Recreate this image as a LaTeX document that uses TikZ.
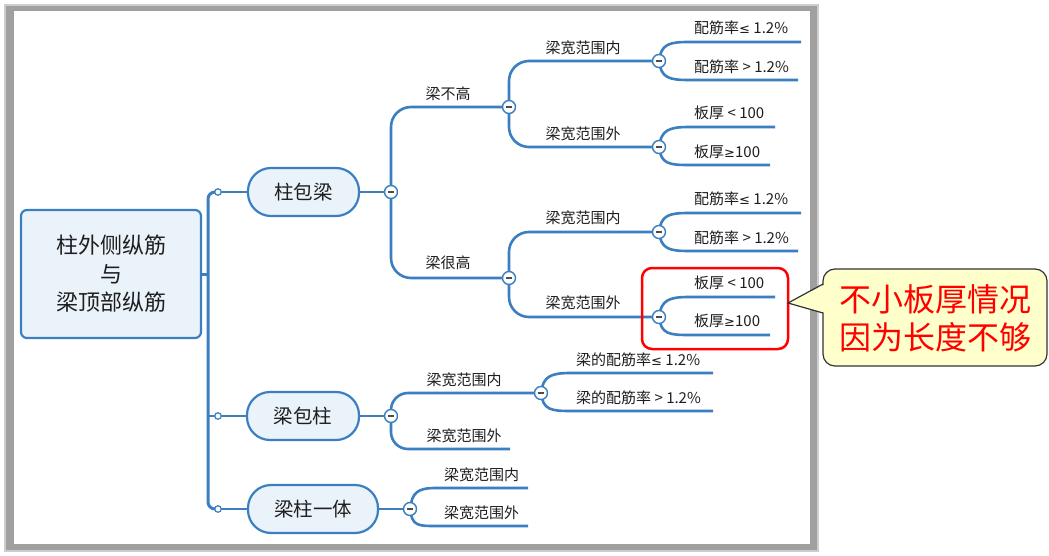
\documentclass[tikz,border=0pt]{standalone}
\usepackage{fontspec}
\setmainfont{Noto Sans CJK SC}
\newfontfamily\symfont{DejaVu Sans}
\newcommand{\myle}{{\symfont\fontsize{13}{18}\selectfont ≤}}
\newcommand{\myge}{{\symfont\fontsize{13}{18}\selectfont ≥}}
\usetikzlibrary{calc}
\definecolor{xblue}{RGB}{59,127,192}
\definecolor{xfill}{RGB}{234,242,250}
\definecolor{xtext}{RGB}{30,30,30}
\definecolor{frameg}{RGB}{160,160,160}
\definecolor{frameo}{RGB}{205,205,205}
\definecolor{noteY}{RGB}{255,255,204}
\definecolor{xred}{RGB}{255,0,0}
\begin{document}
\begin{tikzpicture}[x=1pt,y=-1pt,
  conn/.style={draw=xblue,line width=2.6pt},
  topic/.style={draw=xblue,fill=xfill,line width=2.2pt,rounded corners=23pt,minimum height=48pt,text=xtext,font=\fontsize{19.5}{22}\selectfont,inner sep=0pt},
  rootbox/.style={draw=xblue,fill=xfill,line width=2.2pt,rounded corners=6pt,minimum width=180pt,minimum height=128pt,text=xtext,font=\fontsize{22}{28.5}\selectfont,align=center,inner sep=0pt},
  lbl/.style={text=xtext,font=\fontsize{15}{18}\selectfont,inner sep=0pt},
  leaf/.style={lbl,anchor=west},
  toggle/.style={circle,draw=xblue,fill=white,line width=1.4pt,minimum size=13pt,inner sep=0pt,
    path picture={\fill[black!70] ([xshift=-2.8pt,yshift=-1pt]path picture bounding box.center) rectangle ([xshift=2.8pt,yshift=1pt]path picture bounding box.center);}},
  dot/.style={circle,draw=xblue,fill=white,line width=1.2pt,minimum size=6.5pt,inner sep=0pt},
]
\useasboundingbox (0,0) rectangle (1049,556);
% frame
\fill[frameo] (4,4) rectangle (819,552);
\fill[frameg] (6,6) rectangle (817,550);
\fill[white] (14,11) rectangle (810,544);

% topics
\node[rootbox] (root) at (111,274) {柱外侧纵筋\\与\\梁顶部纵筋};
\node[topic,minimum width=111pt] (A) at (303.5,192) {柱包梁};
\node[topic,minimum width=112pt] (B) at (303,416) {梁包柱};
\node[topic,minimum width=130pt] (C) at (313,509) {梁柱一体};

% coordinates
\coordinate (tA) at (208,192);
\coordinate (tC) at (208,509);
\coordinate (dA) at (218,192);
\coordinate (dB) at (218,416);
\coordinate (dC) at (218,509);
\coordinate (kA) at (391,192);
\coordinate (kB) at (391,416);
\coordinate (kC) at (410,509);
\coordinate (k1) at (509,107);
\coordinate (k2) at (509,278);
\coordinate (k11) at (659,61);
\coordinate (k12) at (659,147);
\coordinate (k21) at (659,232);
\coordinate (k22) at (659,317);
\coordinate (kB1) at (541,393);
\coordinate (eB2) at (510,449);
\coordinate (bC1) at (436,488);
\coordinate (bC2) at (436,526);
\coordinate (eC1) at (528,488);
\coordinate (eC2) at (528,526);
\coordinate (b111) at (689,42);  \coordinate (e111) at (801,42);
\coordinate (b112) at (689,80);  \coordinate (e112) at (798,80);
\coordinate (b121) at (689,127); \coordinate (e121) at (775,127);
\coordinate (b122) at (689,165); \coordinate (e122) at (770,165);
\coordinate (b211) at (689,213); \coordinate (e211) at (801,213);
\coordinate (b212) at (689,251); \coordinate (e212) at (798,251);
\coordinate (b221) at (689,297); \coordinate (e221) at (775,297);
\coordinate (b222) at (689,335); \coordinate (e222) at (770,335);
\coordinate (bB11) at (571,373); \coordinate (eB11) at (713,373);
\coordinate (bB12) at (571,411); \coordinate (eB12) at (713,411);

% trunk
\draw[conn,line width=3pt,rounded corners=7pt] (dA) -- (tA) -- (tC) -- (dC);
\draw[conn,line width=3pt] (root.east) -- (root.east -| tA);
\draw[conn] (tA |- dB) -- (dB);
\draw[conn] (dA) -- (A.west);
\draw[conn] (dB) -- (B.west);
\draw[conn] (dC) -- (C.west);
\draw[conn] (A.east) -- (kA);
\draw[conn] (B.east) -- (kB);
\draw[conn] (C.east) -- (kC);

% level 2 / 3
\draw[conn,rounded corners=20pt] (kA) |- (k1);
\draw[conn,rounded corners=20pt] (kA) |- (k2);
\draw[conn,rounded corners=20pt] (k1) |- (k11);
\draw[conn,rounded corners=20pt] (k1) |- (k12);
\draw[conn,rounded corners=20pt] (k2) |- (k21);
\draw[conn,rounded corners=20pt] (k2) |- (k22);
\draw[conn,rounded corners=17pt] (kB) |- (kB1);
\draw[conn,rounded corners=17pt] (kB) |- (eB2);

% leaves
\draw[conn] (k11) .. controls +(2,-17) and +(-20,0) .. (b111) -- (e111);
\draw[conn] (k11) .. controls +(2,17) and +(-20,0) .. (b112) -- (e112);
\draw[conn] (k12) .. controls +(2,-17) and +(-20,0) .. (b121) -- (e121);
\draw[conn] (k12) .. controls +(2,17) and +(-20,0) .. (b122) -- (e122);
\draw[conn] (k21) .. controls +(2,-17) and +(-20,0) .. (b211) -- (e211);
\draw[conn] (k21) .. controls +(2,17) and +(-20,0) .. (b212) -- (e212);
\draw[conn] (k22) .. controls +(2,-17) and +(-20,0) .. (b221) -- (e221);
\draw[conn] (k22) .. controls +(2,17) and +(-20,0) .. (b222) -- (e222);
\draw[conn] (kB1) .. controls +(2,-17) and +(-20,0) .. (bB11) -- (eB11);
\draw[conn] (kB1) .. controls +(2,17) and +(-20,0) .. (bB12) -- (eB12);
\draw[conn] (kC) .. controls +(2,-17) and +(-18,0) .. (bC1) -- (eC1);
\draw[conn] (kC) .. controls +(2,17) and +(-18,0) .. (bC2) -- (eC2);

% toggles and dots
\node[dot] (DA) at (dA) {};
\node[dot] (DB) at (dB) {};
\node[dot] (DC) at (dC) {};
\foreach \k in {kA,kB,kC,k1,k2,k11,k12,k21,k22,kB1}
  \node[toggle] (T\k) at (\k) {};

% labels
\node[lbl] (L1) at (448,94) {梁不高};
\node[lbl] (L2) at (448,263) {梁很高};
\node[lbl] (L11) at (583,48) {梁宽范围内};
\node[lbl] (L12) at (583,134) {梁宽范围外};
\node[lbl] (L21) at (583,218) {梁宽范围内};
\node[lbl] (L22) at (583,303) {梁宽范围外};
\node[leaf] (P111) at (694,28) {配筋率\myle{} 1.2\%};
\node[leaf] (P112) at (694,67) {配筋率 > 1.2\%};
\node[leaf] (P121) at (694,113) {板厚 < 100};
\node[leaf] (P122) at (694,152) {板厚\myge{}100};
\node[leaf] (P211) at (694,199) {配筋率\myle{} 1.2\%};
\node[leaf] (P212) at (694,238) {配筋率 > 1.2\%};
\node[leaf] (P221) at (694,283) {板厚 < 100};
\node[leaf] (P222) at (694,321) {板厚\myge{}100};
\node[lbl] (LB1) at (464,380) {梁宽范围内};
\node[lbl] (LB2) at (464,436) {梁宽范围外};
\node[leaf] (PB11) at (576,360) {梁的配筋率\myle{} 1.2\%};
\node[leaf] (PB12) at (576,398) {梁的配筋率 > 1.2\%};
\node[leaf] (LC1) at (444,475) {梁宽范围内};
\node[leaf] (LC2) at (444,513) {梁宽范围外};

% red highlight
\node[draw=xred,line width=2.5pt,rounded corners=10pt,minimum width=146pt,minimum height=81pt,inner sep=0pt] (redbox) at (715,308.5) {};

% callout
\coordinate (tip) at (788,303);
\coordinate (pu) at (823,284);
\coordinate (pl) at (823,313);
\draw[draw=black!80,fill=noteY,line width=1.2pt,rounded corners=12pt] (823,269) rectangle (1047,366);
\fill[noteY] (tip) -- ($(pu)+(2.5,0)$) -- ($(pl)+(2.5,0)$) -- cycle;
\draw[draw=black!80,line width=1.2pt,line join=miter] (pu) -- (tip) -- (pl);
\node[font=\fontsize{32}{38}\selectfont,text=xred,align=center,inner sep=0pt] (note) at (935,318) {不小板厚情况\\因为长度不够};
\end{tikzpicture}
\end{document}
